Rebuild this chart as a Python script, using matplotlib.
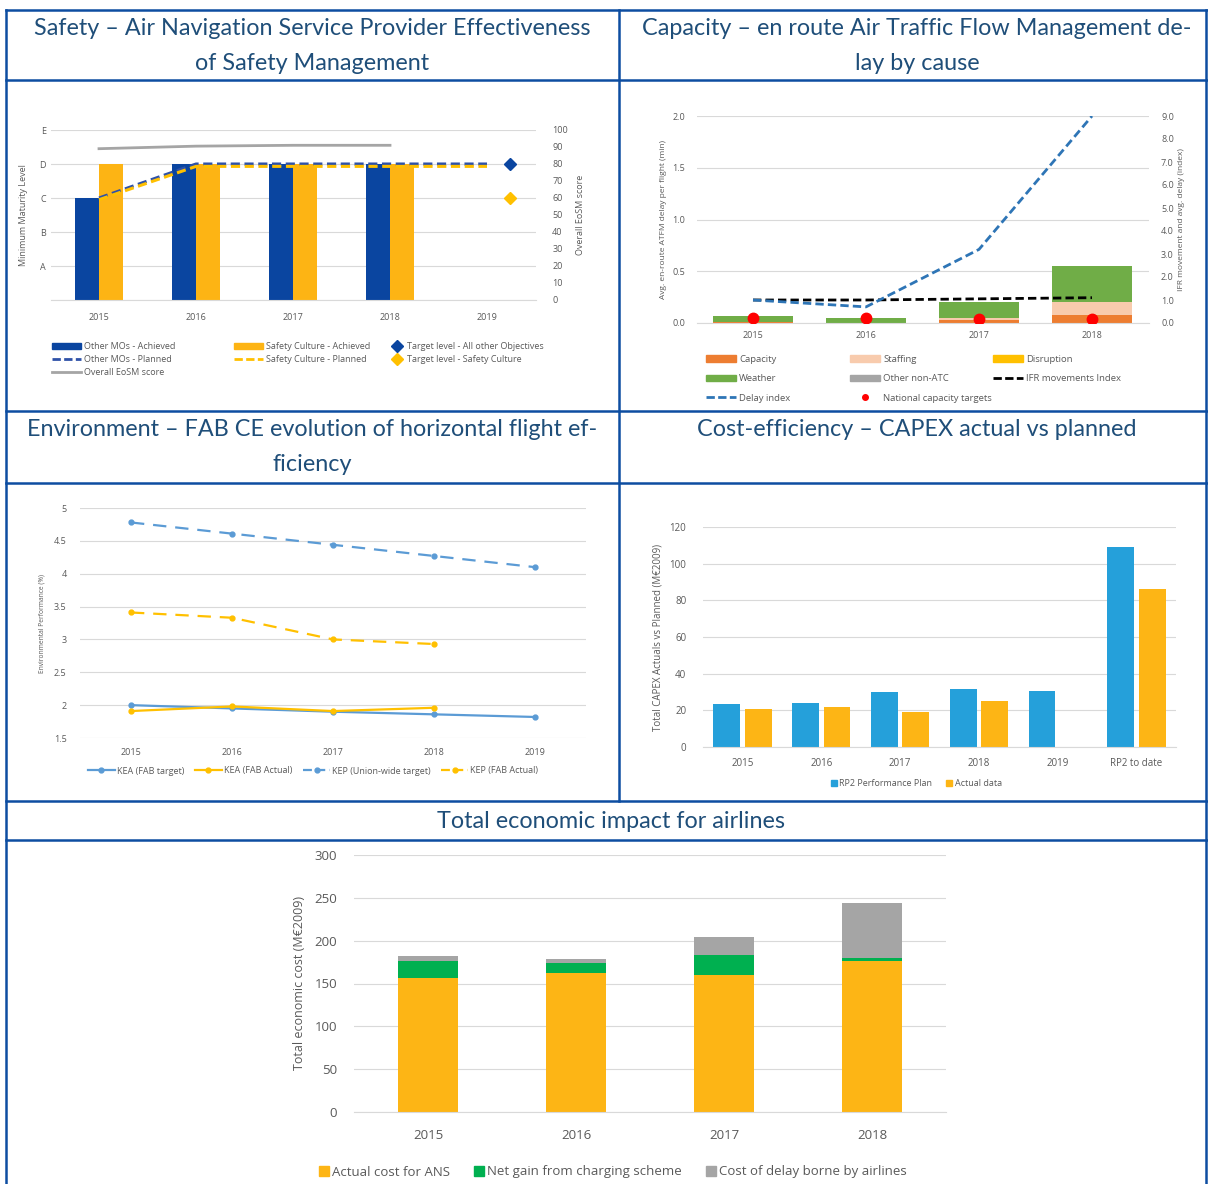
import numpy as np
import matplotlib.pyplot as plt
from matplotlib.lines import Line2D
from matplotlib.patches import Patch

plt.rcParams['font.family'] = ['Open Sans', 'DejaVu Sans']

# ---- data ----
# Safety
safety_years = ['2015', '2016', '2017', '2018', '2019']
level_labels = ['', 'A', 'B', 'C', 'D', 'E']
mo_achieved = [3, 4, 4, 4]
sc_achieved = [4, 4, 4, 4]
mo_planned = [3, 4, 4, 4, 4]
sc_planned = [2.95, 3.93, 3.93, 3.93, 3.93]
eosm_score = [89, 90.5, 91, 91]
target_mo = 80   # right axis units
target_sc = 60

# Capacity
cap_years = ['2015', '2016', '2017', '2018']
delay_capacity = [0.01, 0.0, 0.03, 0.08]
delay_staffing = [0.0, 0.0, 0.02, 0.12]
delay_disruption = [0.0, 0.0, 0.0, 0.0]
delay_weather = [0.06, 0.05, 0.15, 0.35]
delay_other = [0.0, 0.0, 0.0, 0.0]
ifr_index = [1.0, 1.0, 1.05, 1.1]
delay_index = [1.0, 0.7, 3.2, 9.0]
capacity_targets = [0.05, 0.05, 0.04, 0.04]

# Environment
env_years = ['2015', '2016', '2017', '2018', '2019']
kea_target = [2.0, 1.95, 1.9, 1.86, 1.82]
kea_actual = [1.91, 1.98, 1.91, 1.96]
kep_target = [4.78, 4.61, 4.44, 4.27, 4.10]
kep_actual = [3.41, 3.33, 3.00, 2.93]

# Cost-efficiency
capex_cats = ['2015', '2016', '2017', '2018', '2019', 'RP2 to date']
capex_plan = [23.5, 24, 30, 31.5, 30.5, 109]
capex_actual = [20.5, 22, 19, 25, np.nan, 86]

# Total economic impact
eco_years = ['2015', '2016', '2017', '2018']
ans_cost = [157, 162, 160, 176]
net_gain = [19, 12, 23, 4]
delay_cost = [6, 5, 21, 64]

# ---- layout helpers ----
W, H = 1208, 1184
fig = plt.figure(figsize=(W / 100, H / 100), dpi=100)

BORDER = '#0D4DA1'
TITLE_C = '#1F4E79'
TXT = '#595959'
GRID = '#D9D9D9'


def px_axes(x0, y0, x1, y1):
    return fig.add_axes([x0 / W, 1 - y1 / H, (x1 - x0) / W, (y1 - y0) / H])


def fpos(x, y):
    return (x / W, 1 - y / H)


def hline(y, x0, x1):
    fig.add_artist(Line2D([x0 / W, x1 / W], [1 - y / H, 1 - y / H],
                          transform=fig.transFigure, color=BORDER, lw=1.8))


def vline(x, y0, y1):
    fig.add_artist(Line2D([x / W, x / W], [1 - y0 / H, 1 - y1 / H],
                          transform=fig.transFigure, color=BORDER, lw=1.8))


def excel_style(ax, fs):
    for s in ax.spines.values():
        s.set_visible(False)
    ax.spines['bottom'].set_visible(True)
    ax.spines['bottom'].set_color(GRID)
    ax.tick_params(length=0, labelsize=fs, labelcolor=TXT)
    ax.yaxis.grid(True, color=GRID, lw=0.8)
    ax.set_axisbelow(True)


def legend_col(handles, labels, x, y, fs, **kw):
    leg = fig.legend(handles, labels, loc='upper left', bbox_to_anchor=fpos(x, y),
                     frameon=False, fontsize=fs, labelcolor=TXT, borderpad=0,
                     borderaxespad=0, handletextpad=0.3, **kw)
    return leg


# ---- table borders and titles ----
hline(10, 6, 1207)
hline(80, 6, 1207)
hline(411, 6, 1207)
hline(483, 6, 1207)
hline(801, 6, 1207)
hline(840, 6, 1207)
vline(6, 10, 1184)
vline(1206, 10, 1184)
vline(619, 10, 801)

tfs = 16.8
tkw = dict(ha='center', va='center', fontsize=tfs, color=TITLE_C, family='Lato')
fig.text(*fpos(312, 46), 'Safety – Air Navigation Service Provider Effectiveness\nof Safety Management',
         linespacing=1.78, **tkw)
fig.text(*fpos(917, 46), 'Capacity – en route Air Traffic Flow Management de-\nlay by cause',
         linespacing=1.78, **tkw)
fig.text(*fpos(312, 447), 'Environment – FAB CE evolution of horizontal flight ef-\nficiency',
         linespacing=1.78, **tkw)
fig.text(*fpos(917, 430), 'Cost-efficiency – CAPEX actual vs planned', **tkw)
fig.text(*fpos(611, 821), 'Total economic impact for airlines', **tkw)

# ---- Safety ----
C_MO = '#0A45A0'
C_SC = '#FDB414'
ax1 = px_axes(50.5, 130, 535.5, 300)
excel_style(ax1, 6.5)
x5 = np.arange(len(safety_years))
x4 = np.arange(len(mo_achieved))
ax1.bar(x4 - 0.125, mo_achieved, 0.25, color=C_MO)
ax1.bar(x4 + 0.125, sc_achieved, 0.25, color=C_SC)
ax1.plot(x5, mo_planned, color='#2F52A8', lw=2.2, ls=(0, (3, 1.5)))
ax1.plot(x5, sc_planned, color='#FFC000', lw=2.2, ls=(0, (3, 1.5)))
ax1.set_xlim(-0.5, 4.5)
ax1.set_ylim(0, 5)
ax1.set_yticks(range(6))
ax1.set_yticklabels(level_labels)
ax1.set_xticks(x5)
ax1.set_xticklabels(safety_years)
ax1.tick_params(axis='x', pad=9)
ax1.set_ylabel('Minimum Maturity Level', fontsize=6.5, color=TXT, labelpad=8)
ax1r = ax1.twinx()
for s in ax1r.spines.values():
    s.set_visible(False)
ax1r.set_ylim(0, 100)
ax1r.set_yticks(range(0, 101, 10))
ax1r.tick_params(length=0, labelsize=6.5, labelcolor=TXT, pad=12)
ax1r.plot(x4, eosm_score, color='#A5A5A5', lw=2)
ax1r.plot([x5[-1] + 0.24], [target_mo], marker='D', ms=6, color='#0A45A0', ls='none')
ax1r.plot([x5[-1] + 0.24], [target_sc], marker='D', ms=6, color='#FFC000', ls='none')
ax1r.set_ylabel('Overall EoSM score', fontsize=6.5, color=TXT, labelpad=6)

h_mo = Patch(color=C_MO)
h_sc = Patch(color=C_SC)
h_mop = Line2D([], [], color='#2F52A8', lw=2, ls=(0, (3, 1.2)))
h_scp = Line2D([], [], color='#FFC000', lw=2, ls=(0, (3, 1.2)))
h_eo = Line2D([], [], color='#A5A5A5', lw=2)
h_tmo = Line2D([], [], color='#0A45A0', marker='D', ls='none', ms=6)
h_tsc = Line2D([], [], color='#FFC000', marker='D', ls='none', ms=6)
lk = dict(handlelength=3.2, handleheight=0.6, labelspacing=0.45)
legend_col([h_mo, h_mop, h_eo], ['Other MOs - Achieved', 'Other MOs - Planned', 'Overall EoSM score'],
           52, 342, 6.5, **lk)
legend_col([h_sc, h_scp], ['Safety Culture - Achieved', 'Safety Culture - Planned'],
           234, 342, 6.5, **lk)
legend_col([h_tmo, h_tsc], ['Target level - All other Objectives', 'Target level - Safety Culture'],
           390, 342, 6.5, handlelength=1.6, handleheight=0.6, labelspacing=0.45)

# ---- Capacity ----
ax2 = px_axes(696.5, 116, 1148.5, 323)
excel_style(ax2, 6.5)
xc = np.arange(len(cap_years))
bottom = np.zeros(len(cap_years))
cause_series = [('Capacity', delay_capacity, '#ED7D31'),
                ('Staffing', delay_staffing, '#F8CBAD'),
                ('Disruption', delay_disruption, '#FFC000'),
                ('Weather', delay_weather, '#70AD47'),
                ('Other non-ATC', delay_other, '#A5A5A5')]
for name, vals, col in cause_series:
    ax2.bar(xc, vals, 0.71, bottom=bottom, color=col)
    bottom += np.array(vals)
ax2.set_xlim(-0.5, 3.5)
ax2.set_ylim(0, 2.0)
ax2.set_yticks(np.arange(0, 2.01, 0.5))
ax2.yaxis.set_major_formatter('{x:.1f}')
ax2.set_xticks(xc)
ax2.set_xticklabels(cap_years)
ax2.tick_params(axis='y', pad=8)
ax2.tick_params(axis='x', pad=6)
ax2.set_ylabel('Avg. en-route ATFM delay per flight (min)', fontsize=6, color=TXT, labelpad=4)
ax2r = ax2.twinx()
for s in ax2r.spines.values():
    s.set_visible(False)
ax2r.set_ylim(0, 9)
ax2r.set_yticks(range(10))
ax2r.yaxis.set_major_formatter('{x:.1f}')
ax2r.tick_params(length=0, labelsize=6.5, labelcolor=TXT, pad=9)
ax2r.plot(xc, ifr_index, color='black', lw=2, ls=(0, (3, 1.5)))
ax2r.plot(xc, delay_index, color='#2E75B6', lw=2, ls=(0, (3, 1.5)))
ax2r.set_ylabel('IFR movement and avg. delay (index)', fontsize=6, color=TXT, labelpad=3)
ax2r.plot(xc, np.array(capacity_targets) * 4.5, 'o', color='#FF0000', ms=7.5, zorder=5)

hp = [Patch(color=c) for _, _, c in cause_series]
h_ifr = Line2D([], [], color='black', lw=2, ls=(0, (3, 1.2)))
h_di = Line2D([], [], color='#2E75B6', lw=2, ls=(0, (3, 1.2)))
h_nct = Line2D([], [], color='#FF0000', marker='o', ls='none', ms=4)
ck = dict(handlelength=3.2, handleheight=0.7, labelspacing=1.1)
legend_col([hp[0], hp[3], h_di], ['Capacity', 'Weather', 'Delay index'], 706, 355, 6.8, **ck)
legend_col([hp[1], hp[4], h_nct], ['Staffing', 'Other non-ATC', 'National capacity targets'],
           850, 355, 6.8, **ck)
legend_col([hp[2], h_ifr], ['Disruption', 'IFR movements Index'], 993, 355, 6.8, **ck)

# ---- Environment ----
C_B = '#5B9BD5'
C_O = '#FFC000'
ax3 = px_axes(80.5, 508, 585.5, 738)
excel_style(ax3, 6.5)
xe = np.arange(len(env_years))
xa = np.arange(len(kea_actual))
ax3.plot(xe, kea_target, color=C_B, lw=1.6, marker='o', ms=3.5)
ax3.plot(xa, kea_actual, color=C_O, lw=1.6, marker='o', ms=3.5)
ax3.plot(xe, kep_target, color=C_B, lw=1.6, marker='o', ms=3.5, ls=(0, (6, 4)))
ax3.plot(xa, kep_actual, color=C_O, lw=1.6, marker='o', ms=3.5, ls=(0, (6, 4)))
ax3.set_xlim(-0.5, 4.5)
ax3.set_ylim(1.5, 5)
ax3.set_yticks(np.arange(1.5, 5.01, 0.5))
ax3.yaxis.set_major_formatter(lambda v, p: f'{v:g}')
ax3.spines['bottom'].set_visible(False)
ax3.set_xticks(xe)
ax3.set_xticklabels(env_years)
ax3.tick_params(axis='x', pad=7)
ax3.tick_params(axis='y', pad=10)
ax3.set_ylabel('Environmental Performance (%)', fontsize=4.8, color=TXT, labelpad=6)
he = [Line2D([], [], color=C_B, lw=1.6, marker='o', ms=3.5),
      Line2D([], [], color=C_O, lw=1.6, marker='o', ms=3.5),
      Line2D([], [], color=C_B, lw=1.6, marker='o', ms=3.5, ls=(0, (4, 2))),
      Line2D([], [], color=C_O, lw=1.6, marker='o', ms=3.5, ls=(0, (4, 2)))]
fig.legend(he, ['KEA (FAB target)', 'KEA (FAB Actual)', 'KEP (Union-wide target)', 'KEP (FAB Actual)'],
           loc='center', bbox_to_anchor=fpos(313, 771), ncol=4, frameon=False, fontsize=6.5,
           labelcolor=TXT, handlelength=3, handletextpad=0.2, columnspacing=1.2)

# ---- Cost-efficiency ----
C_PB = '#25A0DA'
C_PO = '#FDB515'
ax4 = px_axes(703, 527, 1176, 747)
excel_style(ax4, 7)
xk = np.arange(len(capex_cats))
ax4.bar(xk - 0.2, capex_plan, 0.34, color=C_PB)
ax4.bar(xk + 0.2, capex_actual, 0.34, color=C_PO)
ax4.set_xlim(-0.5, 5.5)
ax4.set_ylim(0, 120)
ax4.set_yticks(range(0, 121, 20))
ax4.set_xticks(xk)
ax4.set_xticklabels(capex_cats)
ax4.tick_params(axis='x', pad=8)
ax4.tick_params(axis='y', pad=12)
ax4.set_ylabel('Total CAPEX Actuals vs Planned (M€2009)', fontsize=7, color=TXT, labelpad=4)
hk = [Line2D([], [], color=C_PB, marker='s', ls='none', ms=5),
      Line2D([], [], color=C_PO, marker='s', ls='none', ms=5)]
fig.legend(hk, ['RP2 Performance Plan', 'Actual data'], loc='center', bbox_to_anchor=fpos(916, 784),
           ncol=2, frameon=False, fontsize=6.5, labelcolor=TXT, handlelength=0.8,
           handletextpad=0.2, columnspacing=1.5)

# ---- Total economic impact ----
C_ANS = '#FDB515'
C_GAIN = '#00B050'
C_DEL = '#A5A5A5'
ax5 = px_axes(354, 855, 946, 1112)
excel_style(ax5, 9.5)
xt = np.arange(len(eco_years))
ax5.bar(xt, ans_cost, 0.4, color=C_ANS)
ax5.bar(xt, net_gain, 0.4, bottom=ans_cost, color=C_GAIN)
ax5.bar(xt, delay_cost, 0.4, bottom=np.add(ans_cost, net_gain), color=C_DEL)
ax5.set_xlim(-0.5, 3.5)
ax5.set_ylim(0, 300)
ax5.set_yticks(range(0, 301, 50))
ax5.set_xticks(xt)
ax5.set_xticklabels(eco_years)
ax5.tick_params(axis='x', pad=12)
ax5.tick_params(axis='y', pad=12)
ax5.set_ylabel('Total economic cost (M€2009)', fontsize=9, color=TXT, labelpad=6)
ht = [Line2D([], [], color=c, marker='s', ls='none', ms=7) for c in (C_ANS, C_GAIN, C_DEL)]
fig.legend(ht, ['Actual cost for ANS', 'Net gain from charging scheme', 'Cost of delay borne by airlines'],
           loc='center', bbox_to_anchor=fpos(613, 1172), ncol=3, frameon=False, fontsize=9.5,
           labelcolor=TXT, handlelength=0.8, handletextpad=0.2, columnspacing=1.8)

fig.savefig('out.png', dpi=100)
